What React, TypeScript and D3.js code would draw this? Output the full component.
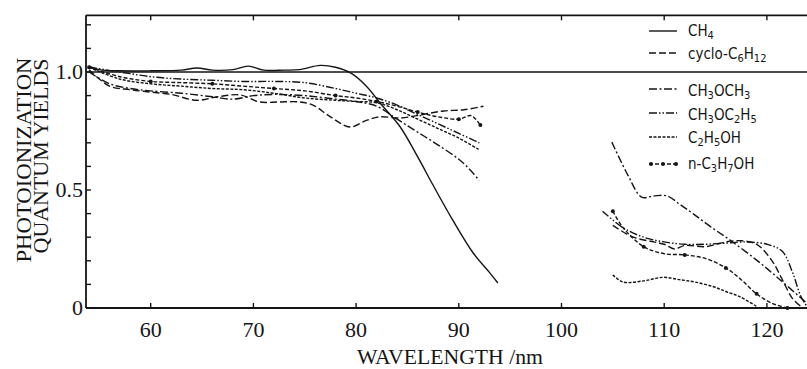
import React from "react";
import * as d3 from "d3";

type P = [number, number];

// ---- data (wavelength nm, quantum yield) ----
const ch4: P[] = [[54,1.025],[55,1.01],[57,1.005],[60,1.005],[63,1.008],[64.5,1.017],[66,1.008],[68,1.01],[69.5,1.025],[71,1.008],[73,1.008],[74.5,1.01],[76.5,1.028],[78,1.02],[79.5,0.995],[81,0.94],[82.5,0.86],[84.3,0.767],[86,0.64],[87.5,0.52],[89.4,0.373],[91.4,0.233],[93,0.15],[93.8,0.106]];

const cycloLeft: P[] = [[54,1.01],[56,0.94],[58,0.925],[60,0.915],[62,0.905],[64.5,0.88],[66.5,0.895],[68.7,0.903],[70.6,0.873],[72.5,0.873],[74.5,0.873],[75.8,0.86],[77.5,0.81],[79.4,0.767],[81,0.795],[82.3,0.81],[84.3,0.805],[86.5,0.82],[88.5,0.835],[90.5,0.84],[92.4,0.855]];
const cycloRight: P[] = [[105,0.35],[107,0.3],[109,0.28],[110,0.27],[111,0.25],[112,0.265],[114,0.26],[116,0.28],[117.5,0.285],[119,0.27],[120.5,0.2],[121.5,0.12],[122.5,0.04],[123.5,0]];

const dmeLeft: P[] = [[54,1.0],[56,0.95],[58,0.93],[60,0.92],[63,0.91],[66,0.895],[68,0.885],[70,0.9],[72,0.905],[75,0.9],[78,0.885],[80,0.875],[82,0.855],[84,0.8],[86,0.745],[88,0.69],[90,0.63],[91,0.59],[92,0.54]];
const dmeRight: P[] = [[104.9,0.703],[106.5,0.56],[107.8,0.47],[109,0.475],[110.3,0.475],[111.5,0.44],[112.8,0.4],[114.5,0.345],[116.4,0.288],[119,0.203],[121.3,0.119],[123.9,0.02]];

const memLeft: P[] = [[54,1.02],[57,1.0],[60,0.98],[63,0.97],[66,0.965],[69,0.96],[72,0.96],[75,0.955],[78,0.93],[80,0.91],[82,0.89],[84,0.86],[86,0.82],[88,0.78],[90,0.74],[92,0.7]];
const memRight: P[] = [[104,0.41],[106,0.34],[108,0.3],[110,0.28],[112,0.27],[114,0.27],[116,0.275],[118,0.28],[120,0.27],[121.5,0.24],[122.5,0.15],[123.3,0.05],[124,0]];

const etohLeft: P[] = [[54,1.02],[57,0.97],[60,0.95],[63,0.94],[66,0.93],[69,0.925],[72,0.91],[75,0.89],[78,0.88],[80,0.875],[82,0.87],[84,0.84],[86,0.8],[88,0.76],[90,0.72],[92,0.67]];
const etohRight: P[] = [[105,0.14],[106,0.11],[108,0.115],[109.9,0.13],[111.5,0.12],[113,0.11],[114.8,0.09],[116,0.07],[117.4,0.047],[119.1,0.004]];

const propLeft: P[] = [[54,1.02],[57,0.98],[60,0.96],[63,0.955],[66,0.95],[69,0.94],[72,0.93],[75,0.92],[78,0.9],[80,0.89],[82,0.875],[84,0.855],[86,0.83],[88,0.81],[90,0.8],[91.2,0.815],[92.1,0.775]];
const propRight: P[] = [[105,0.41],[106,0.34],[108,0.26],[110,0.23],[112,0.225],[114,0.21],[116,0.17],[117.5,0.12],[119,0.06],[120.5,0.02],[122,0]];

const xTicks = [60, 70, 80, 90, 100, 110, 120];
const yTicks = [0,0.1,0.2,0.3,0.4,0.5,0.6,0.7,0.8,0.9,1.0,1.1,1.2];
const yLabels = [0, 0.5, 1.0];

const W = 807, H = 369;
const x = d3.scaleLinear().domain([60, 120]).range([150.7, 766.9]);
const y = d3.scaleLinear().domain([0, 1]).range([308, 72]);
const frameLeft = x(53.7);
const frameTop = y(1.24);
const frameBottom = y(0);

const line = d3.line<P>().x(d => x(d[0])).y(d => y(d[1])).curve(d3.curveCatmullRom.alpha(0.5));

const INK = "#151515";
const series = [
  { name: "ch4", segs: [ch4], dash: "none" },
  { name: "cyclo", segs: [cycloLeft, cycloRight], dash: "7,3" },
  { name: "dme", segs: [dmeLeft, dmeRight], dash: "8,2.5,2,2.5" },
  { name: "mem", segs: [memLeft, memRight], dash: "8,2,1.5,2,1.5,2" },
  { name: "etoh", segs: [etohLeft, etohRight], dash: "3,1.5" },
  { name: "prop", segs: [propLeft, propRight], dash: "4,2", dots: true },
];

const legendFont = "'Liberation Sans Narrow','DejaVu Sans Condensed','Roboto Condensed','Noto Sans',sans-serif";
const serif = "'Liberation Serif','Times New Roman','DejaVu Serif',serif";

const SUB = 11;
const SD = 3;

export default function App() {
  const legendX1 = 649, legendX2 = 677, textX = 688;
  const legend = [
    { ly: 31, by: 36, dash: "none", content: <>CH<tspan dy={SD} fontSize={SUB}>4</tspan></> },
    { ly: 53, by: 59, dash: "7,3", content: <>cyclo-C<tspan dy={SD} fontSize={SUB}>6</tspan><tspan dy={-SD}>H</tspan><tspan dy={SD} fontSize={SUB}>12</tspan></> },
    { ly: 89, by: 96, dash: "8,2.5,2,2.5", content: <>CH<tspan dy={SD} fontSize={SUB}>3</tspan><tspan dy={-SD}>OCH</tspan><tspan dy={SD} fontSize={SUB}>3</tspan></> },
    { ly: 113, by: 120, dash: "8,2,1.5,2,1.5,2", content: <>CH<tspan dy={SD} fontSize={SUB}>3</tspan><tspan dy={-SD}>OC</tspan><tspan dy={SD} fontSize={SUB}>2</tspan><tspan dy={-SD}>H</tspan><tspan dy={SD} fontSize={SUB}>5</tspan></> },
    { ly: 137, by: 143, dash: "3,1.5", content: <>C<tspan dy={SD} fontSize={SUB}>2</tspan><tspan dy={-SD}>H</tspan><tspan dy={SD} fontSize={SUB}>5</tspan><tspan dy={-SD}>OH</tspan></> },
    { ly: 164, by: 169, dash: "4,2", dots: true, content: <>n-C<tspan dy={SD} fontSize={SUB}>3</tspan><tspan dy={-SD}>H</tspan><tspan dy={SD} fontSize={SUB}>7</tspan><tspan dy={-SD}>OH</tspan></> },
  ];
  return (
    <svg width={W} height={H} style={{ position: "absolute", left: 0, top: 0, background: "#fff" }}>
      <rect x={0} y={0} width={W} height={H} fill="#fff" />
      {/* frame */}
      <line x1={frameLeft} x2={W} y1={frameTop} y2={frameTop} stroke={INK} strokeWidth={1.6} />
      <line x1={frameLeft} x2={W} y1={frameBottom} y2={frameBottom} stroke={INK} strokeWidth={1.8} />
      <line x1={frameLeft} x2={frameLeft} y1={frameTop} y2={frameBottom} stroke={INK} strokeWidth={1.8} />
      {/* 1.0 reference line */}
      <line x1={frameLeft} x2={W} y1={y(1)} y2={y(1)} stroke={INK} strokeWidth={1.6} />
      {/* ticks */}
      {xTicks.map(t => (
        <g key={"xt" + t}>
          <line x1={x(t)} x2={x(t)} y1={frameBottom} y2={frameBottom - 5} stroke={INK} strokeWidth={1.4} />
          <line x1={x(t)} x2={x(t)} y1={frameTop} y2={frameTop + 5} stroke={INK} strokeWidth={1.4} />
          <text x={x(t)} y={337} textAnchor="middle" fontFamily={serif} fontSize={22} fill={INK}>{t}</text>
        </g>
      ))}
      {yTicks.map(t => (
        <line key={"yt" + t} x1={frameLeft} x2={frameLeft + 5} y1={y(t)} y2={y(t)} stroke={INK} strokeWidth={1.4} />
      ))}
      {yLabels.map(t => (
        <text key={"yl" + t} x={83} y={y(t) + 7} textAnchor="end" fontFamily={serif} fontSize={22} fill={INK}>
          {t === 0 ? "0" : t.toFixed(1)}
        </text>
      ))}
      {/* axis titles */}
      <text x={450} y={364} textAnchor="middle" fontFamily={serif} fontSize={21} fill={INK}
        textLength={186} lengthAdjust="spacingAndGlyphs">WAVELENGTH /nm</text>
      <text transform="translate(31,160) rotate(-90)" textAnchor="middle" fontFamily={serif} fontSize={20} fill={INK}
        textLength={205} lengthAdjust="spacingAndGlyphs">PHOTOIONIZATION</text>
      <text transform="translate(48,156) rotate(-90)" textAnchor="middle" fontFamily={serif} fontSize={20} fill={INK}
        textLength={195} lengthAdjust="spacingAndGlyphs">QUANTUM YIELDS</text>
      {/* series */}
      {series.map(s => (
        <g key={s.name}>
          {s.segs.map((seg, i) => (
            <path key={i} d={line(seg) || ""} fill="none" stroke={INK} strokeWidth={1.4}
              strokeDasharray={s.dash === "none" ? undefined : s.dash} />
          ))}
          {s.dots && s.segs.map((seg, i) => seg.filter((_, j) => j % 2 === 0 || j === seg.length - 1).map((d, j) => (
            <circle key={i + "-" + j} cx={x(d[0])} cy={y(d[1])} r={2} fill={INK} />
          )))}
        </g>
      ))}
      {/* legend */}
      {legend.map((l, i) => (
        <g key={"lg" + i}>
          <line x1={legendX1} x2={legendX2} y1={l.ly} y2={l.ly} stroke={INK} strokeWidth={1.4}
            strokeDasharray={l.dash === "none" ? undefined : l.dash} />
          {l.dots && [legendX1 + 2, legendX1 + 14, legendX2 - 1].map((cx, k) => (
            <circle key={k} cx={cx} cy={l.ly} r={2} fill={INK} />
          ))}
          <text x={textX} y={l.by} fontFamily={legendFont} fontSize={15} fill={INK}
            style={{ fontStretch: "condensed" }}>
            {l.content}
          </text>
        </g>
      ))}
    </svg>
  );
}
